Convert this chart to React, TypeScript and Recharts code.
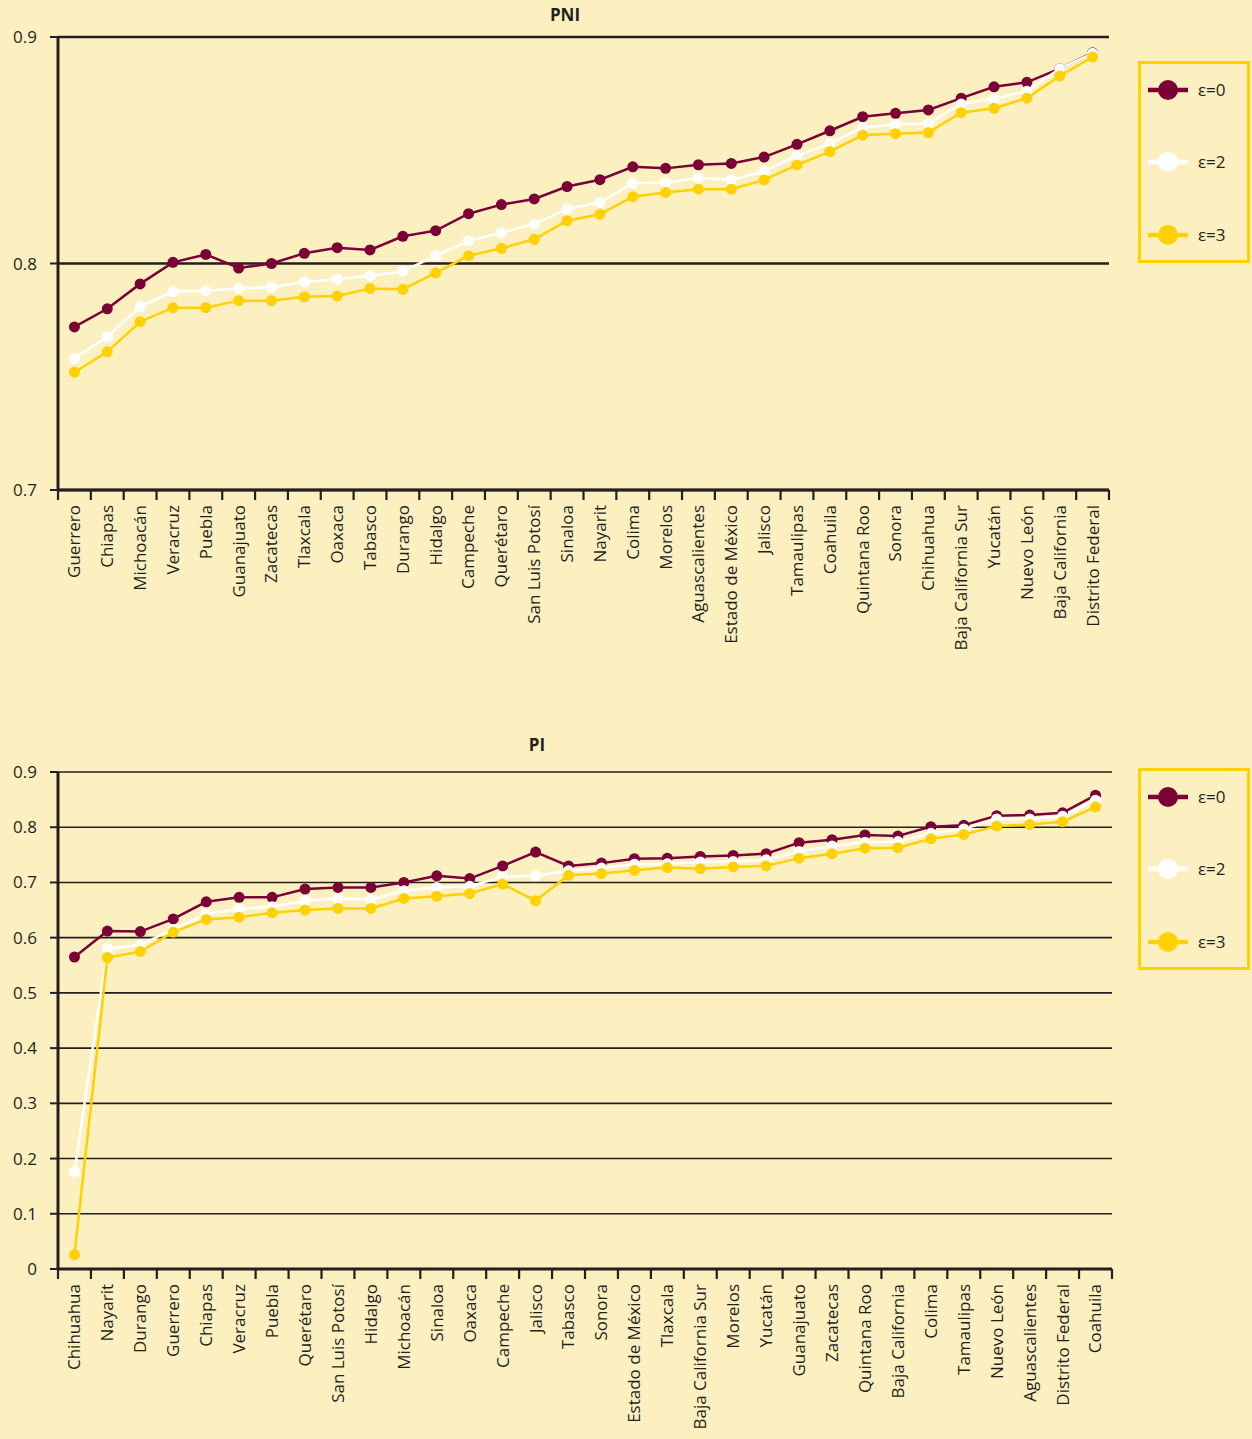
import { LineChart, Line, XAxis, YAxis, CartesianGrid, Legend } from 'recharts';

const BG = '#FDF0C0';
const INK = '#231F20';
const MAROON = '#7A0036';
const WHITE = '#FFFFFF';
const GOLD = '#FFD100';
const FONT = '"Open Sans", sans-serif';

// PNI panel
const pniStates = [
  'Guerrero', 'Chiapas', 'Michoacán', 'Veracruz', 'Puebla', 'Guanajuato', 'Zacatecas', 'Tlaxcala',
  'Oaxaca', 'Tabasco', 'Durango', 'Hidalgo', 'Campeche', 'Querétaro', 'San Luis Potosí', 'Sinaloa',
  'Nayarit', 'Colima', 'Morelos', 'Aguascalientes', 'Estado de México', 'Jalisco', 'Tamaulipas', 'Coahuila',
  'Quintana Roo', 'Sonora', 'Chihuahua', 'Baja California Sur', 'Yucatán', 'Nuevo León', 'Baja California', 'Distrito Federal',
];
const pniE0 = [
  0.772, 0.78, 0.791, 0.8005, 0.804, 0.798, 0.8, 0.8045, 0.807, 0.806, 0.812, 0.8145, 0.822, 0.826, 0.8285, 0.834,
  0.837, 0.8427, 0.842, 0.8436, 0.8442, 0.847, 0.8526, 0.8586, 0.8648, 0.8663, 0.8678, 0.873, 0.878, 0.88, 0.886, 0.893,
];
const pniE2 = [
  0.758, 0.7677, 0.781, 0.7876, 0.788, 0.789, 0.7895, 0.7918, 0.793, 0.7946, 0.7966, 0.8034, 0.81, 0.8136, 0.8174, 0.824,
  0.827, 0.8354, 0.8357, 0.8379, 0.8369, 0.8408, 0.8476, 0.853, 0.86, 0.8614, 0.8619, 0.8704, 0.8728, 0.876, 0.886, 0.8928,
];
const pniE3 = [
  0.752, 0.761, 0.7743, 0.7805, 0.7805, 0.7836, 0.7836, 0.7853, 0.7857, 0.789, 0.7886, 0.7959, 0.8034, 0.8067, 0.8107, 0.8189,
  0.8217, 0.8295, 0.8313, 0.8328, 0.8328, 0.8369, 0.8435, 0.8494, 0.8567, 0.8573, 0.8578, 0.8666, 0.8685, 0.873, 0.8828, 0.8912,
];
const pniTicks = [0.7, 0.8, 0.9];

// PI panel
const piStates = [
  'Chihuahua', 'Nayarit', 'Durango', 'Guerrero', 'Chiapas', 'Veracruz', 'Puebla', 'Querétaro',
  'San Luis Potosí', 'Hidalgo', 'Michoacán', 'Sinaloa', 'Oaxaca', 'Campeche', 'Jalisco', 'Tabasco',
  'Sonora', 'Estado de México', 'Tlaxcala', 'Baja California Sur', 'Morelos', 'Yucatán', 'Guanajuato', 'Zacatecas',
  'Quintana Roo', 'Baja California', 'Colima', 'Tamaulipas', 'Nuevo León', 'Aguascalientes', 'Distrito Federal', 'Coahuila',
];
const piE0 = [
  0.565, 0.612, 0.611, 0.634, 0.665, 0.673, 0.673, 0.688, 0.691, 0.691, 0.7, 0.712, 0.707, 0.73, 0.755, 0.73,
  0.735, 0.743, 0.744, 0.747, 0.749, 0.752, 0.772, 0.7775, 0.786, 0.784, 0.801, 0.8035, 0.821, 0.822, 0.826, 0.858,
];
const piE2 = [
  0.176, 0.58, 0.587, 0.615, 0.643, 0.652, 0.656, 0.667, 0.671, 0.669, 0.685, 0.691, 0.693, 0.71, 0.712, 0.721,
  0.726, 0.733, 0.734, 0.737, 0.738, 0.741, 0.756, 0.766, 0.773, 0.774, 0.789, 0.797, 0.815, 0.815, 0.82, 0.849,
];
const piE3 = [
  0.026, 0.564, 0.575, 0.61, 0.633, 0.637, 0.645, 0.65, 0.653, 0.653, 0.671, 0.675, 0.68, 0.697, 0.667, 0.713,
  0.716, 0.722, 0.727, 0.725, 0.728, 0.73, 0.744, 0.752, 0.762, 0.763, 0.779, 0.787, 0.802, 0.805, 0.81, 0.837,
];
const piTicks = [0, 0.1, 0.2, 0.3, 0.4, 0.5, 0.6, 0.7, 0.8, 0.9];

const series = [
  { key: 'e0', name: 'ε=0', color: MAROON },
  { key: 'e2', name: 'ε=2', color: WHITE },
  { key: 'e3', name: 'ε=3', color: GOLD },
];

const buildRows = (states: string[], a: number[], b: number[], c: number[]) =>
  states.map((s, i) => ({ x: i + 0.5, state: s, e0: a[i], e2: b[i], e3: c[i] }));

// boundaries get a tick mark, half steps carry the state name
const xTicks = Array.from({ length: 65 }, (_, i) => i / 2);

function StateTick(props: any) {
  const { x, y, payload, names } = props;
  const v = payload.value;
  if (Number.isInteger(v)) {
    return <line x1={x} y1={y} x2={x} y2={y + 10} stroke={INK} strokeWidth={2.2} />;
  }
  const ty = y + 15;
  return (
    <text
      x={x}
      y={ty}
      transform={`rotate(-90, ${x}, ${ty})`}
      textAnchor="end"
      dy="0.35em"
      fontSize={17}
      fill={INK}
      fontFamily={FONT}
    >
      {names[Math.floor(v)]}
    </text>
  );
}

function LegendBox() {
  const rows = [29, 101, 174];
  return (
    <div style={{ width: 112, height: 202, border: `3px solid ${GOLD}`, boxSizing: 'border-box' }}>
      <svg width={106} height={196} style={{ display: 'block' }}>
        {series.map((s, i) => (
          <g key={s.key}>
            <line x1={7} y1={rows[i] - 3} x2={47} y2={rows[i] - 3} stroke={s.color} strokeWidth={4.5} />
            <circle cx={27} cy={rows[i] - 3} r={10} fill={s.color} />
            <text x={57} y={rows[i] - 3} dy="0.35em" fontSize={17} fill={INK} fontFamily={FONT}>
              {s.name}
            </text>
          </g>
        ))}
      </svg>
    </div>
  );
}

interface PanelProps {
  states: string[];
  rows: any[];
  domain: [number, number];
  ticks: number[];
  height: number;
  right: number;
  gridWidth: number;
  legendTop: number;
}

function Panel({ states, rows, domain, ticks, height, right, gridWidth, legendTop }: PanelProps) {
  return (
    <LineChart width={1252} height={height} data={rows} margin={{ top: 37, right, bottom: 0, left: 0 }}>
      <CartesianGrid vertical={false} stroke={INK} strokeWidth={gridWidth} />
      <XAxis
        type="number"
        dataKey="x"
        domain={[0, 32]}
        ticks={xTicks}
        interval={0}
        height={height - 37 - (domain[0] === 0 ? 497 : 453)}
        tickLine={false}
        tickSize={0}
        tickMargin={0}
        axisLine={{ stroke: INK, strokeWidth: 3 }}
        tick={(p: any) => <StateTick {...p} names={states} />}
      />
      <YAxis
        type="number"
        domain={domain}
        ticks={ticks}
        interval={0}
        allowDataOverflow
        width={58}
        tickSize={8}
        tickMargin={13}
        tickFormatter={(v: number) => (v === 0 ? '0' : v.toFixed(1))}
        axisLine={{ stroke: INK, strokeWidth: 3 }}
        tickLine={{ stroke: INK, strokeWidth: 2 }}
        tick={{ fill: INK, fontSize: 17, fontFamily: FONT }}
      />
      <Legend
        layout="vertical"
        align="center"
        verticalAlign="middle"
        wrapperStyle={{ left: 1138, top: legendTop, width: 112, height: 202 }}
        content={() => <LegendBox />}
      />
      {series.map((s) => (
        <Line
          key={s.key}
          type="linear"
          dataKey={s.key}
          name={s.name}
          stroke={s.color}
          strokeWidth={2.5}
          dot={{ r: 5.5, fill: s.color, stroke: s.color, strokeWidth: 0 }}
          activeDot={false}
          isAnimationActive={false}
        />
      ))}
    </LineChart>
  );
}

export default function App() {
  const pniRows = buildRows(pniStates, pniE0, pniE2, pniE3);
  const piRows = buildRows(piStates, piE0, piE2, piE3);
  const title = { position: 'absolute' as const, left: 0, textAlign: 'center' as const, fontFamily: FONT, fontWeight: 700, fontSize: 17, color: INK };
  return (
    <div style={{ position: 'absolute', left: 0, top: 0, width: 1252, height: 1439, background: BG, overflow: 'hidden' }}>
      <div style={{ ...title, top: 3, width: 1130 }}>PNI</div>
      <div style={{ position: 'absolute', left: 0, top: 0 }}>
        <Panel states={pniStates} rows={pniRows} domain={[0.7, 0.9]} ticks={pniTicks} height={660} right={143} gridWidth={2.5} legendTop={61} />
      </div>
      <div style={{ ...title, top: 733, width: 1074 }}>PI</div>
      <div style={{ position: 'absolute', left: 0, top: 735 }}>
        <Panel states={piStates} rows={piRows} domain={[0, 0.9]} ticks={piTicks} height={700} right={140} gridWidth={1.6} legendTop={33} />
      </div>
    </div>
  );
}
